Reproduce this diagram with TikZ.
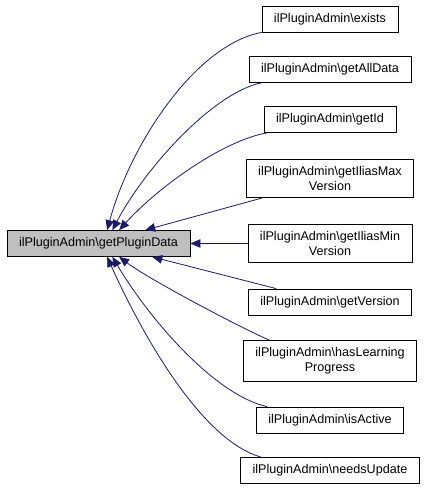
\documentclass[tikz,border=0pt]{standalone}
\usepackage{fontspec}
\setmainfont{Liberation Sans}
\usetikzlibrary{arrows.meta}
\definecolor{edgeblue}{HTML}{191970}
\definecolor{maingrey}{HTML}{BFBFBF}

\begin{document}
\begin{tikzpicture}[x=1pt, y=-1pt,
    fn/.style={draw=black, line width=0.8pt, fill=white, inner xsep=12pt, inner ysep=7pt,
        minimum height=26pt, align=center, font=\fontsize{12.6}{15}\selectfont},
    call/.style={draw=edgeblue, line width=0.8pt, -{Triangle[length=10pt, width=8.5pt]}}]
    \useasboundingbox (0,0) rectangle (428,489);

    \node[fn, fill=maingrey] (main) at (98.5,243.5) {ilPluginAdmin\textbackslash getPluginData};

    \node[fn] (exists) at (330,19) {ilPluginAdmin\textbackslash exists};
    \node[fn] (getAllData) at (330,69.5) {ilPluginAdmin\textbackslash getAllData};
    \node[fn] (getId) at (330,119.5) {ilPluginAdmin\textbackslash getId};
    \node[fn] (getIliasMax) at (330,178.5) {ilPluginAdmin\textbackslash getIliasMax\\Version};
    \node[fn] (getIliasMin) at (330,243.5) {ilPluginAdmin\textbackslash getIliasMin\\Version};
    \node[fn] (getVersion) at (330,302) {ilPluginAdmin\textbackslash getVersion};
    \node[fn] (hasLearning) at (330,361) {ilPluginAdmin\textbackslash hasLearning\\Progress};
    \node[fn] (isActive) at (330,420) {ilPluginAdmin\textbackslash isActive};
    \node[fn] (needsUpdate) at (330,470.5) {ilPluginAdmin\textbackslash needsUpdate};

    % callers of getPluginData
    \draw[call] (exists.south west) .. controls (195,45) and (130,145) .. (main.57);
    \draw[call] (getAllData.191) .. controls (213,93) and (145,168) .. (main.44);
    \draw[call] (getId.192) .. controls (225,140) and (160,185) .. (main.33);
    \draw[call] (getIliasMax.196) -- (main.16);
    \draw[call] (getIliasMin.west) -- (main.east);
    \draw[call] (getVersion.166) -- (main.346);
    \draw[call] (hasLearning.161) .. controls (245,330) and (150,280) .. (main.327);
    \draw[call] (isActive.168) .. controls (215,395) and (150,320) .. (main.316);
    \draw[call] (needsUpdate.169) .. controls (200,440) and (140,330) .. (main.303);
\end{tikzpicture}
\end{document}
